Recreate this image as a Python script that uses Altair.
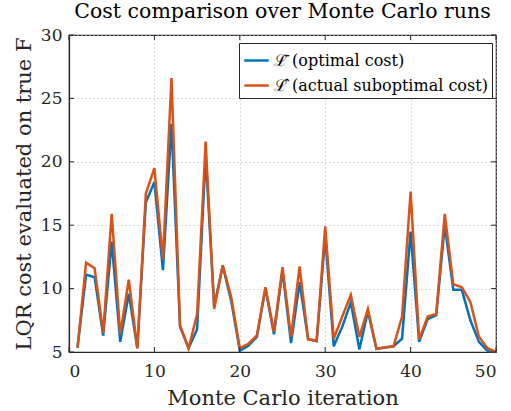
import altair as alt
import pandas as pd

iterations = list(range(1, 51))
optimal = [5.35, 11.1, 10.9, 6.3, 13.7, 5.8, 9.6, 5.3, 16.8, 18.4,
           11.45, 23.0, 7.0, 5.3, 6.8, 20.5, 8.6, 11.8, 9.0, 5.1,
           5.5, 6.2, 10.0, 6.4, 11.4, 5.7, 10.5, 6.0, 5.85, 14.1,
           5.45, 7.0, 8.9, 5.2, 8.2, 5.25, 5.35, 5.45, 6.05, 14.5,
           5.8, 7.6, 7.9, 15.0, 9.9, 9.9, 7.5, 5.8, 5.1, 5.0]
suboptimal = [5.35, 12.05, 11.6, 6.5, 15.9, 6.4, 10.7, 5.3, 17.5, 19.5,
              12.3, 26.6, 7.1, 5.3, 8.0, 21.6, 8.4, 11.85, 9.3, 5.3,
              5.65, 6.3, 10.1, 6.6, 11.7, 6.2, 11.75, 6.0, 5.9, 14.9,
              6.05, 7.8, 9.5, 6.2, 8.4, 5.25, 5.35, 5.45, 7.8, 17.65,
              6.0, 7.8, 8.0, 15.9, 10.35, 10.1, 8.95, 6.2, 5.3, 5.0]
series_names = ["ℒ̄ (optimal cost)", "ℒ̂ (actual suboptimal cost)"]
series_colors = ["#0072BD", "#D95319"]
x_ticks = [0, 10, 20, 30, 40, 50]
y_ticks = [5, 10, 15, 20, 25, 30]

W, H = 427, 317
FONT = "DejaVu Serif"

df_opt = pd.DataFrame({"iter": iterations, "cost": optimal, "series": series_names[0]})
df_sub = pd.DataFrame({"iter": iterations, "cost": suboptimal, "series": series_names[1]})

xscale = alt.Scale(domain=[0, 50], nice=False, zero=False)
yscale = alt.Scale(domain=[5, 30], nice=False, zero=False)
cscale = alt.Scale(domain=series_names, range=series_colors)

xaxis = alt.Axis(values=x_ticks, title="Monte Carlo iteration", ticks=False,
                 grid=True, gridDash=[1, 3], gridColor="#bbbbbb",
                 domainColor="#262626", labelPadding=11, titlePadding=8)
yaxis = alt.Axis(values=y_ticks, title="LQR cost evaluated on true F", ticks=False,
                 grid=True, gridDash=[1, 3], gridColor="#bbbbbb",
                 domainColor="#262626", labelPadding=7, titlePadding=6)

legend = alt.Legend(title=None, orient="none", legendX=170, legendY=8,
                    symbolType="stroke", symbolStrokeWidth=2.5, symbolSize=600,
                    fillColor="white", strokeColor="#262626", padding=4,
                    labelFont=FONT, labelFontSize=16, labelColor="black",
                    labelLimit=0, rowPadding=3, labelOffset=4)

line_opt = alt.Chart(df_opt).mark_line(strokeWidth=2.5).encode(
    x=alt.X("iter:Q", scale=xscale, axis=xaxis),
    y=alt.Y("cost:Q", scale=yscale, axis=yaxis),
    color=alt.Color("series:N", scale=cscale, legend=legend),
)
line_sub = alt.Chart(df_sub).mark_line(strokeWidth=2.5).encode(
    x=alt.X("iter:Q", scale=xscale, axis=xaxis),
    y=alt.Y("cost:Q", scale=yscale, axis=yaxis),
    color=alt.Color("series:N", scale=cscale, legend=legend),
)

xt = pd.DataFrame({"iter": x_ticks})
yt = pd.DataFrame({"cost": y_ticks})
tick_color = "#262626"
xb = alt.Chart(xt).mark_rule(color=tick_color).encode(
    x=alt.X("iter:Q", scale=xscale, axis=xaxis), y=alt.value(H), y2=alt.value(H - 5))
xtp = alt.Chart(xt).mark_rule(color=tick_color).encode(
    x=alt.X("iter:Q", scale=xscale, axis=xaxis), y=alt.value(0), y2=alt.value(5))
yl = alt.Chart(yt).mark_rule(color=tick_color).encode(
    y=alt.Y("cost:Q", scale=yscale, axis=yaxis), x=alt.value(0), x2=alt.value(5))
yr = alt.Chart(yt).mark_rule(color=tick_color).encode(
    y=alt.Y("cost:Q", scale=yscale, axis=yaxis), x=alt.value(W), x2=alt.value(W - 5))

chart = alt.layer(line_opt, line_sub, xb, xtp, yl, yr).properties(
    width=W, height=H,
    title=alt.TitleParams("Cost comparison over Monte Carlo runs", font=FONT,
                          fontSize=20.5, fontWeight="normal", color="black", offset=4),
    autosize=alt.AutoSizeParams(type="none"),
    padding={"left": 69, "top": 35, "right": 15, "bottom": 59},
).configure_view(
    stroke="#262626", strokeWidth=1.2
).configure_axis(
    labelFont=FONT, labelFontSize=17, labelColor="#262626",
    titleFont=FONT, titleFontSize=21, titleFontWeight="normal", titleColor="#262626",
    domainWidth=1.2,
)

chart.save("out.html", embed_options={"renderer": "svg", "actions": False})
